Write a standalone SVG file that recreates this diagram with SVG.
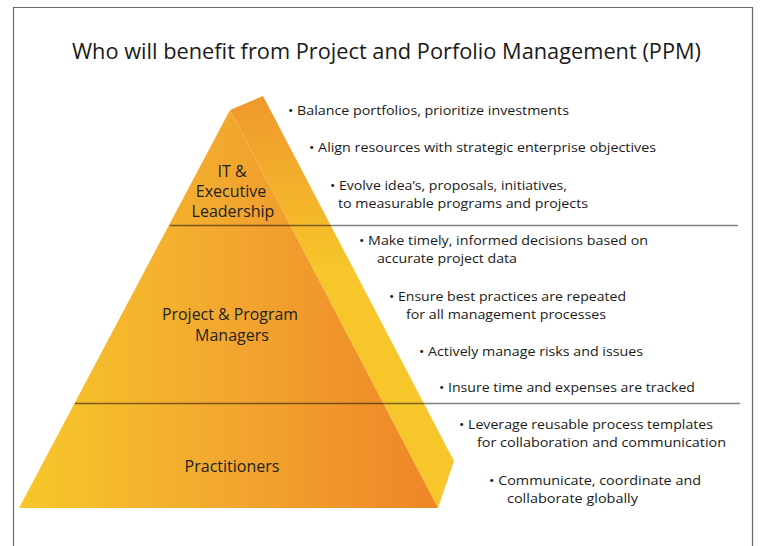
<svg xmlns="http://www.w3.org/2000/svg" width="760" height="546" viewBox="0 0 760 546">
<defs>
<linearGradient id="front" gradientUnits="userSpaceOnUse" x1="19" y1="0" x2="438" y2="0">
<stop offset="0" stop-color="#F7C72A"/>
<stop offset="0.5" stop-color="#F2A72F"/>
<stop offset="1" stop-color="#EE8527"/>
</linearGradient>
<linearGradient id="side" gradientUnits="userSpaceOnUse" x1="0" y1="96" x2="0" y2="270">
<stop offset="0" stop-color="#EF982C"/>
<stop offset="1" stop-color="#F6C62A"/>
</linearGradient>
</defs>
<style>
.t{font-family:"Open Sans","Noto Sans","Liberation Sans",sans-serif;fill:#1a1a1a}
.title{font-size:22px}
.b{font-size:13.5px}
.lbl{font-size:16px;fill:#222;text-anchor:middle}
.div{stroke:#000;stroke-opacity:0.5;stroke-width:1.4;fill:none}
</style>
<rect width="760" height="546" fill="#fff"/>
<path d="M13.5 560 V7.5 H752.5 V560" fill="none" stroke="#6a6a6a" stroke-width="1.2"/>
<text class="t title" x="386.5" y="59" text-anchor="middle" textLength="629" lengthAdjust="spacingAndGlyphs">Who will benefit from Project and Porfolio Management (PPM)</text>
<g id="pyramid">
<polygon points="230,110 263,96 454,461 438,508" fill="url(#side)"/>
<polygon points="230,110 19,508 438,508" fill="url(#front)"/>
</g>
<g id="tier-it">
<text class="t lbl" x="232" y="177">IT &amp;</text>
<text class="t lbl" x="231" y="197">Executive</text>
<text class="t lbl" x="233" y="217">Leadership</text>
<text class="t b" x="288" y="115" textLength="281" lengthAdjust="spacingAndGlyphs">• Balance portfolios, prioritize investments</text>
<text class="t b" x="309" y="152" textLength="347" lengthAdjust="spacingAndGlyphs">• Align resources with strategic enterprise objectives</text>
<text class="t b" x="330" y="190" textLength="237" lengthAdjust="spacingAndGlyphs">• Evolve idea’s, proposals, initiatives,</text>
<text class="t b" x="338" y="208" textLength="250" lengthAdjust="spacingAndGlyphs">to measurable programs and projects</text>
</g>
<g id="tier-managers">
<text class="t lbl" x="230" y="320" textLength="136" lengthAdjust="spacingAndGlyphs">Project &amp; Program</text>
<text class="t lbl" x="232" y="341">Managers</text>
<text class="t b" x="359" y="245" textLength="289" lengthAdjust="spacingAndGlyphs">• Make timely, informed decisions based on</text>
<text class="t b" x="377" y="263" textLength="140" lengthAdjust="spacingAndGlyphs">accurate project data</text>
<text class="t b" x="389" y="301" textLength="237" lengthAdjust="spacingAndGlyphs">• Ensure best practices are repeated</text>
<text class="t b" x="406" y="319" textLength="200" lengthAdjust="spacingAndGlyphs">for all management processes</text>
<text class="t b" x="419" y="356" textLength="224" lengthAdjust="spacingAndGlyphs">• Actively manage risks and issues</text>
<text class="t b" x="439" y="392" textLength="256" lengthAdjust="spacingAndGlyphs">• Insure time and expenses are tracked</text>
</g>
<g id="tier-practitioners">
<text class="t lbl" x="232" y="472">Practitioners</text>
<text class="t b" x="459" y="429" textLength="254" lengthAdjust="spacingAndGlyphs">• Leverage reusable process templates</text>
<text class="t b" x="477" y="447" textLength="249" lengthAdjust="spacingAndGlyphs">for collaboration and communication</text>
<text class="t b" x="489" y="485" textLength="212" lengthAdjust="spacingAndGlyphs">• Communicate, coordinate and</text>
<text class="t b" x="507" y="503" textLength="131" lengthAdjust="spacingAndGlyphs">collaborate globally</text>
</g>
<g id="connectors">
<line class="div" x1="170" y1="225.5" x2="738" y2="225.5"/>
<line class="div" x1="75" y1="403.5" x2="740" y2="403.5"/>
</g>
</svg>
